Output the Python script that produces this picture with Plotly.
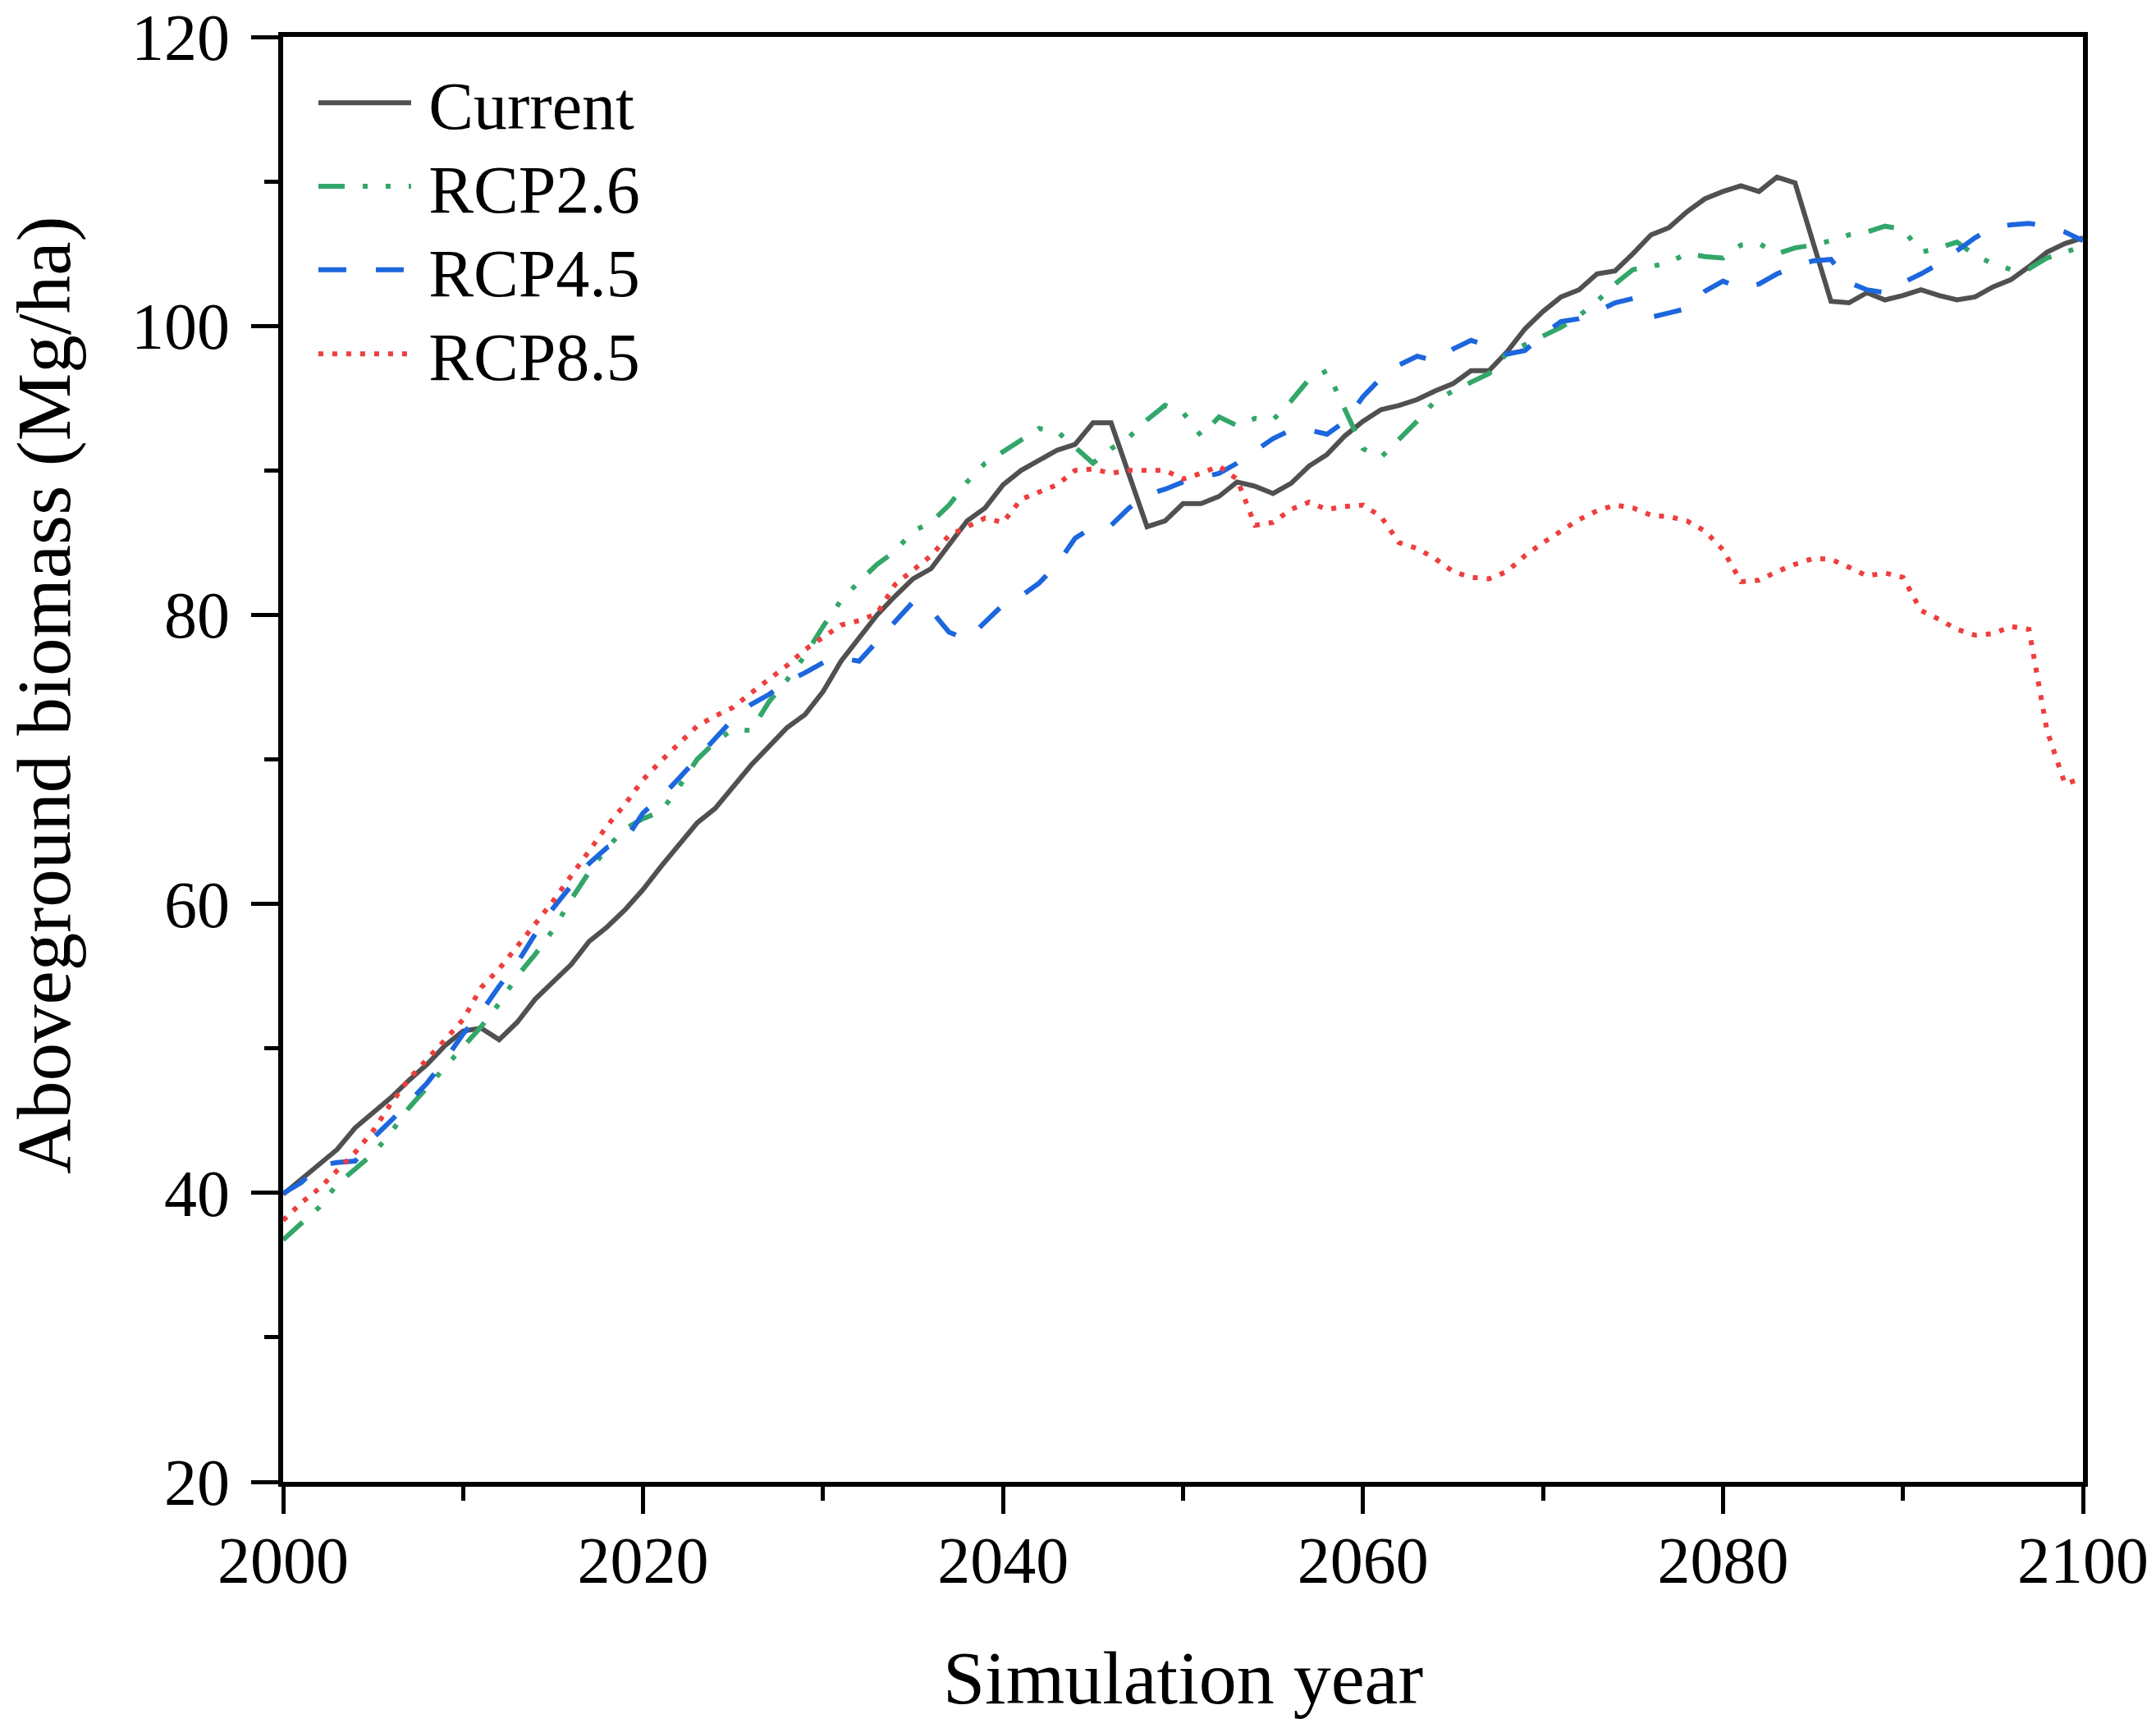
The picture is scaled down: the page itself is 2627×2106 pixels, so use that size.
import plotly.graph_objects as go

years = list(range(2000, 2101))

current = [
    39.9, 40.9, 41.95, 43.0, 44.5, 45.5, 46.6, 47.8, 48.9, 50.2,
    51.2, 51.4, 50.6, 51.8, 53.4, 54.6, 55.8, 57.4, 58.4, 59.6,
    61.0, 62.6, 64.1, 65.6, 66.6, 68.1, 69.6, 70.9, 72.2, 73.1,
    74.7, 76.8, 78.4, 80.0, 81.3, 82.5, 83.2, 84.8, 86.5, 87.4,
    89.0, 90.0, 90.7, 91.4, 91.8, 93.3, 93.3, 89.7, 86.1, 86.5,
    87.7, 87.7, 88.2, 89.2, 88.9, 88.4, 89.1, 90.3, 91.1, 92.4,
    93.4, 94.2, 94.5, 94.9, 95.5, 96.0, 96.9, 96.9, 98.2, 99.8,
    101.0, 102.0, 102.5, 103.6, 103.8, 105.0, 106.3, 106.8, 107.9, 108.8,
    109.3, 109.7, 109.3, 110.3, 109.9, 105.8, 101.7, 101.6, 102.3, 101.8,
    102.1, 102.5, 102.1, 101.8, 102.0, 102.7, 103.2, 104.1, 105.1, 105.7,
    106.1,
]

rcp26 = [
    36.75, 37.9, 39.0, 40.6, 41.7, 42.7, 44.2, 45.9, 47.3, 48.7,
    50.2, 51.5, 53.1, 55.0, 56.5, 58.2, 60.3, 62.2, 63.9, 65.2,
    65.9, 66.4, 68.1, 70.0, 71.2, 72.1, 72.0, 74.0, 75.5, 77.2,
    79.2, 81.0, 82.3, 83.5, 84.4, 85.8, 86.4, 87.6, 89.2, 90.5,
    91.3, 92.1, 92.9, 92.7, 91.6, 90.5, 91.5, 92.3, 93.5, 94.5,
    94.0, 92.4, 93.7, 93.1, 93.6, 93.5, 94.8, 96.3, 96.9, 94.2,
    91.5, 90.9, 92.1, 93.4, 94.8, 95.5, 96.1, 96.7, 98.1, 98.7,
    99.3, 99.9, 100.7, 101.7, 102.9, 103.9, 104.1, 104.4, 105.0, 104.8,
    104.7, 105.6, 105.7, 105.0, 105.4, 105.6, 105.9, 106.3, 106.5, 106.9,
    106.7, 105.1, 105.4, 105.8, 104.9, 104.3, 103.9, 103.95, 104.7, 105.1,
    105.5,
]

rcp45 = [
    39.96, 40.7, 41.9, 42.1, 42.2, 43.8, 45.0, 46.3, 47.6, 49.2,
    51.0, 52.5, 54.3, 55.9, 57.9, 59.7, 61.2, 62.8, 63.9, 64.4,
    66.3, 67.4, 68.7, 70.1, 71.4, 72.8, 73.8, 74.5, 75.4, 76.0,
    76.7, 77.0, 76.8, 78.2, 79.6, 80.9, 80.3, 78.8, 78.3, 79.5,
    80.7, 81.3, 82.2, 83.5, 85.3, 86.1, 86.2, 87.4, 88.3, 88.7,
    89.2, 89.5, 89.8, 90.5, 91.3, 92.2, 92.8, 92.8, 92.5, 93.4,
    95.1, 96.4, 97.3, 97.9, 97.6, 98.4, 99.0, 98.6, 98.05, 98.3,
    99.4, 100.3, 100.5, 101.0, 101.6, 101.9, 100.6, 100.9, 101.2, 102.4,
    103.1, 102.6, 102.9, 103.6, 104.1, 104.5, 104.6, 103.0, 102.5, 102.3,
    103.0, 103.6, 104.3, 105.2, 106.1, 106.8, 107.0, 107.1, 106.9, 106.5,
    105.9,
]

rcp85 = [
    38.1, 39.3, 40.3, 41.6, 42.8, 44.3, 46.2, 47.9, 49.2, 50.6,
    52.0, 54.2, 55.5, 57.0, 58.6, 60.2, 61.9, 63.7, 65.4, 66.9,
    68.6, 69.9, 71.1, 72.3, 73.0, 73.6, 74.6, 75.5, 76.5, 77.6,
    78.4, 79.3, 79.6, 80.1, 82.1, 83.1, 84.1, 85.5, 86.1, 86.7,
    86.4, 88.0, 88.5, 89.0, 90.0, 90.1, 89.8, 90.0, 90.0, 90.0,
    89.4, 89.8, 90.3, 89.4, 86.2, 86.4, 87.3, 87.8, 87.3, 87.5,
    87.6, 86.8, 85.0, 84.6, 83.9, 83.0, 82.6, 82.5, 83.0, 84.1,
    85.0, 85.8, 86.6, 87.2, 87.6, 87.4, 86.9, 86.8, 86.5, 85.8,
    84.5, 82.3, 82.4, 83.0, 83.5, 83.9, 83.85, 83.3, 82.7, 82.9,
    82.6, 80.3, 79.7, 79.0, 78.6, 78.7, 79.2, 79.0, 72.0, 68.3,
    68.7,
]

series_names = ["Current", "RCP2.6", "RCP4.5", "RCP8.5"]
series_values = [current, rcp26, rcp45, rcp85]
series_colors = ["#505050", "#33A669", "#1C66DE", "#EE3E3E"]
series_dash = ["solid", "32px,22px,6px,22px,6px,22px", "34px,36px", "6px,11px"]

x_tick_vals = [2000, 2020, 2040, 2060, 2080, 2100]
y_tick_vals = [20, 40, 60, 80, 100, 120]

FONT = "Liberation Serif"
legend_ids = ["legend", "legend2", "legend3", "legend4"]
legend_rows_y = [0.9543, 0.8965, 0.8388, 0.7805]

fig = go.Figure()
for name, vals, col, dash, lid in zip(series_names, series_values, series_colors, series_dash, legend_ids):
    fig.add_trace(go.Scatter(
        x=years, y=vals, name="\u2009" + name, mode="lines",
        line=dict(color=col, width=6, dash=dash),
        legend=lid,
    ))

axis_common = dict(
    showline=True, linecolor="black", linewidth=6, mirror=True,
    showgrid=False, zeroline=False,
    ticks="outside", ticklen=33, tickwidth=5, tickcolor="black",
    tickfont=dict(family=FONT, size=80, color="black"),
    ticklabeloverflow="allow", automargin=False,
)

fig.update_xaxes(
    range=[2000, 2100], tickvals=x_tick_vals,
    minor=dict(dtick=10, tick0=2000, ticks="outside", ticklen=17, tickwidth=5, tickcolor="black"),
    title=dict(text="Simulation year", font=dict(family=FONT, size=92, color="black"), standoff=69),
    ticklabelstandoff=-12,
    **axis_common,
)
fig.update_yaxes(
    range=[20, 120], tickvals=y_tick_vals,
    minor=dict(dtick=10, tick0=20, ticks="outside", ticklen=17, tickwidth=5, tickcolor="black"),
    ticklabelstandoff=10,
    **axis_common,
)

legend_common = dict(
    x=0.0173, xanchor="left", yanchor="middle",
    font=dict(family=FONT, size=82, color="black"),
    bgcolor="rgba(0,0,0,0)", borderwidth=0, itemwidth=113,
)

fig.update_layout(
    width=2627, height=2106,
    margin=dict(l=345, r=89, t=45, b=300, autoexpand=False),
    plot_bgcolor="white", paper_bgcolor="white",
    font=dict(family=FONT, color="black"),
    showlegend=True,
    annotations=[dict(
        text="Aboveground biomass (Mg/ha)", textangle=-90,
        xref="paper", yref="paper", x=-0.1330, y=0.5447,
        xanchor="center", yanchor="middle", showarrow=False,
        font=dict(family=FONT, size=93, color="black"),
    )],
)
for lid, ly in zip(legend_ids, legend_rows_y):
    fig.update_layout({lid: dict(y=ly, **legend_common)})

fig.write_html(
    "out.html",
    config={"displayModeBar": False},
    post_script="document.body.style.margin='0';document.body.style.overflow='hidden';",
)
